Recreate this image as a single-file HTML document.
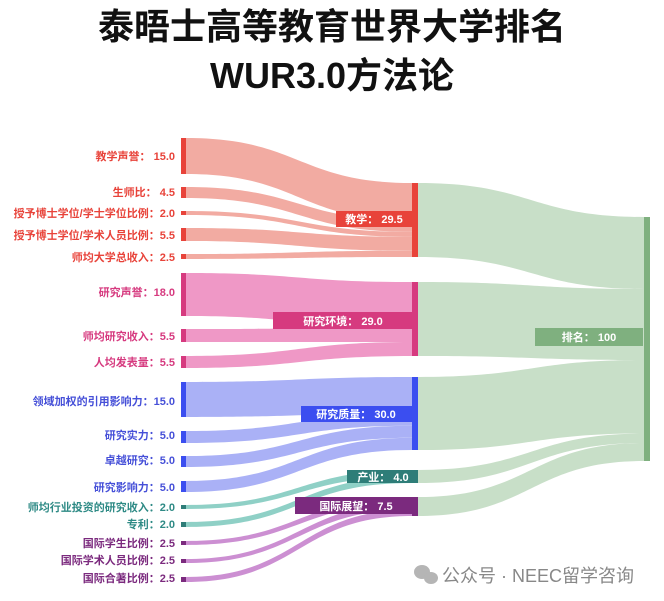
<!DOCTYPE html>
<html><head><meta charset="utf-8"><style>
html,body{margin:0;padding:0;background:#fff;}
body{width:664px;height:601px;overflow:hidden;position:relative;font-family:"Liberation Sans","Noto Sans CJK SC",sans-serif;}
.t{position:absolute;left:0;width:664px;text-align:center;font-weight:bold;color:#111;font-size:36px;font-family:"Liberation Sans","Noto Sans CJK SC",sans-serif;}
svg{position:absolute;left:0;top:0;}
svg text{font-family:"Liberation Sans","Noto Sans CJK SC",sans-serif;font-weight:bold;}
</style></head><body>
<div class="t" style="top:6px;line-height:42px;">泰晤士高等教育世界大学排名</div>
<div class="t" style="top:55px;line-height:42px;">WUR3.0方法论</div>
<svg width="664" height="601" viewBox="0 0 664 601">
<g fill="#c8dfc8">
<path d="M418 183 C531 183 531 217 644 217 L644 289 C531 289 531 257 418 257Z"/>
<path d="M418 282 C531 282 531 289 644 289 L644 360 C531 360 531 356 418 356Z"/>
<path d="M418 377 C531 377 531 360 644 360 L644 433.5 C531 433.5 531 450 418 450Z"/>
<path d="M418 470 C531 470 531 433.5 644 433.5 L644 443 C531 443 531 483 418 483Z"/>
<path d="M418 497 C531 497 531 443 644 443 L644 461 C531 461 531 516 418 516Z"/>
</g>
<g fill="#f2aba2">
<path d="M186 138 C299 138 299 183 412 183 L412 220.6 C299 220.6 299 174 186 174Z"/>
<path d="M186 187 C299 187 299 220.6 412 220.6 L412 231.9 C299 231.9 299 198 186 198Z"/>
<path d="M186 211 C299 211 299 231.9 412 231.9 L412 236.9 C299 236.9 299 215 186 215Z"/>
<path d="M186 228 C299 228 299 236.9 412 236.9 L412 250.7 C299 250.7 299 241 186 241Z"/>
<path d="M186 254 C299 254 299 250.7 412 250.7 L412 257 C299 257 299 259 186 259Z"/>
</g>
<g fill="#ef98c6">
<path d="M186 273 C299 273 299 282 412 282 L412 328 C299 328 299 316 186 316Z"/>
<path d="M186 329 C299 329 299 328 412 328 L412 342 C299 342 299 342 186 342Z"/>
<path d="M186 356 C299 356 299 342 412 342 L412 356 C299 356 299 368 186 368Z"/>
</g>
<g fill="#aab1f6">
<path d="M186 382 C299 382 299 377 412 377 L412 413.5 C299 413.5 299 417 186 417Z"/>
<path d="M186 431 C299 431 299 413.5 412 413.5 L412 425.7 C299 425.7 299 443 186 443Z"/>
<path d="M186 456 C299 456 299 425.7 412 425.7 L412 437.8 C299 437.8 299 467 186 467Z"/>
<path d="M186 481 C299 481 299 437.8 412 437.8 L412 450 C299 450 299 492 186 492Z"/>
</g>
<g fill="#8fd0c6">
<path d="M186 505 C299 505 299 470 412 470 L412 476.5 C299 476.5 299 509 186 509Z"/>
<path d="M186 522 C299 522 299 476.5 412 476.5 L412 483 C299 483 299 527 186 527Z"/>
</g>
<g fill="#cc8fd2">
<path d="M186 541 C299 541 299 497 412 497 L412 503.3 C299 503.3 299 545 186 545Z"/>
<path d="M186 559 C299 559 299 503.3 412 503.3 L412 509.7 C299 509.7 299 563 186 563Z"/>
<path d="M186 577 C299 577 299 509.7 412 509.7 L412 516 C299 516 299 582 186 582Z"/>
</g>
<g fill="#e8433a">
<rect x="181" y="138" width="5" height="36"/><rect x="181" y="187" width="5" height="11"/><rect x="181" y="211" width="5" height="4"/><rect x="181" y="228" width="5" height="13"/><rect x="181" y="254" width="5" height="5"/>
</g>
<g fill="#d63a7f"><rect x="181" y="273" width="5" height="43"/><rect x="181" y="329" width="5" height="13"/><rect x="181" y="356" width="5" height="12"/></g>
<g fill="#3b4ef0"><rect x="181" y="382" width="5" height="35"/><rect x="181" y="431" width="5" height="12"/><rect x="181" y="456" width="5" height="11"/><rect x="181" y="481" width="5" height="11"/></g>
<g fill="#2e7d78"><rect x="181" y="505" width="5" height="4"/><rect x="181" y="522" width="5" height="5"/></g>
<g fill="#7b2a7e"><rect x="181" y="541" width="5" height="4"/><rect x="181" y="559" width="5" height="4"/><rect x="181" y="577" width="5" height="5"/></g>
<rect x="412" y="183" width="6" height="74" fill="#e8433a"/>
<rect x="336" y="211" width="76" height="16" fill="#e8433a"/>
<rect x="412" y="282" width="6" height="74" fill="#d63a7f"/>
<rect x="273" y="312" width="139" height="17" fill="#d63a7f"/>
<rect x="412" y="377" width="6" height="73" fill="#3b4ef0"/>
<rect x="301" y="406" width="111" height="16" fill="#3b4ef0"/>
<rect x="412" y="470" width="6" height="13" fill="#2e7d78"/>
<rect x="347" y="470" width="71" height="13" fill="#2e7d78"/>
<rect x="412" y="497" width="6" height="19" fill="#7b2a7e"/>
<rect x="295" y="497" width="123" height="17" fill="#7b2a7e"/>
<rect x="644" y="217" width="6" height="244" fill="#7fb07f"/>
<rect x="535" y="328" width="108" height="18" fill="#7fb07f"/>
<g fill="#fff" font-size="11">
<text x="374" y="223" text-anchor="middle">教学： 29.5</text>
<text x="343" y="325" text-anchor="middle">研究环境： 29.0</text>
<text x="356" y="418" text-anchor="middle">研究质量： 30.0</text>
<text x="383" y="481" text-anchor="middle">产业： 4.0</text>
<text x="356" y="510" text-anchor="middle">国际展望： 7.5</text>
<text x="589" y="341" text-anchor="middle">排名： 100</text>
</g>
<g font-size="11" text-anchor="end">
<g fill="#e8433a">
<text x="175" y="160">教学声誉： 15.0</text>
<text x="175" y="196">生师比： 4.5</text>
<text x="175" y="217">授予博士学位/学士学位比例：2.0</text>
<text x="175" y="239">授予博士学位/学术人员比例：5.5</text>
<text x="175" y="261">师均大学总收入：2.5</text>
</g>
<g fill="#d63a7f">
<text x="175" y="296">研究声誉：18.0</text>
<text x="175" y="340">师均研究收入：5.5</text>
<text x="175" y="366">人均发表量：5.5</text>
</g>
<g fill="#4650d8">
<text x="175" y="405">领域加权的引用影响力：15.0</text>
<text x="175" y="439">研究实力：5.0</text>
<text x="175" y="464">卓越研究：5.0</text>
<text x="175" y="491">研究影响力：5.0</text>
</g>
<g fill="#2e8a85">
<text x="175" y="511">师均行业投资的研究收入：2.0</text>
<text x="175" y="528">专利：2.0</text>
</g>
<g fill="#7b2a7e">
<text x="175" y="547">国际学生比例：2.5</text>
<text x="175" y="564">国际学术人员比例：2.5</text>
<text x="175" y="582">国际合著比例：2.5</text>
</g>
</g>
<g fill="#b5b5b5">
<ellipse cx="422" cy="572" rx="8" ry="7"/><ellipse cx="431" cy="578" rx="7" ry="6"/>
</g>
<text x="442" y="582" font-size="18" fill="#888" style="font-weight:normal">公众号 · NEEC留学咨询</text>
</svg>
</body></html>
